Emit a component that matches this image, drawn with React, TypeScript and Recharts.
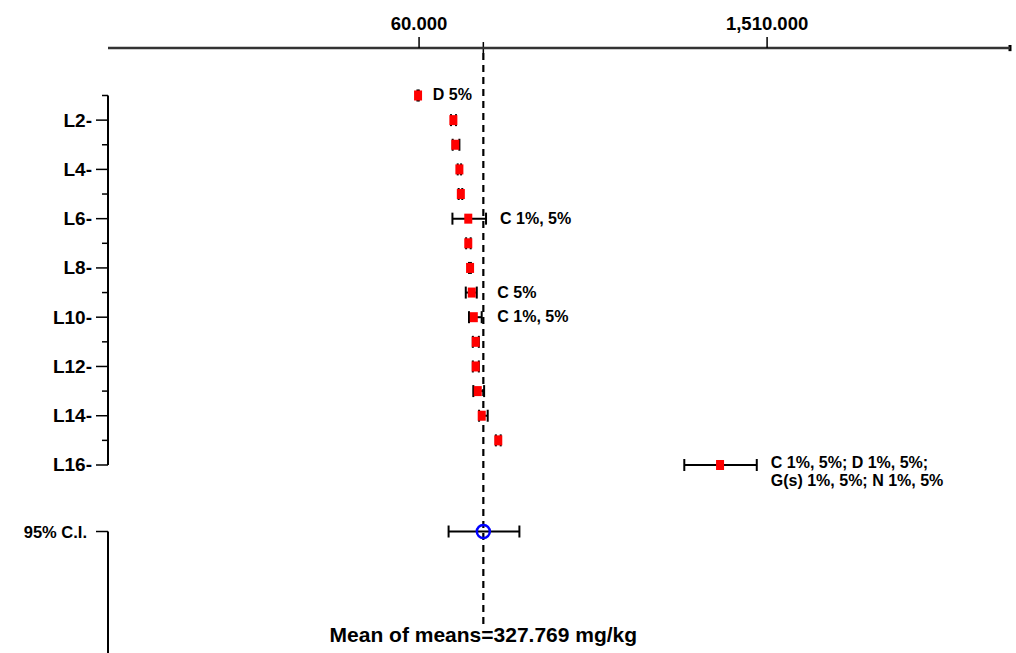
import { ScatterChart, Scatter, XAxis, YAxis, ErrorBar, ReferenceLine } from 'recharts';

// lab results (mg/kg): mean with its interval, one row per lab
const labs = ['L1', 'L2', 'L3', 'L4', 'L5', 'L6', 'L7', 'L8', 'L9', 'L10', 'L11', 'L12', 'L13', 'L14', 'L15', 'L16'];
const means = [55.8, 202.9, 211, 228, 234, 265, 265, 272.5, 279.6, 288, 296, 296, 304.6, 321, 390, 1314];
const lows = [53, 193, 200, 221, 225, 199, 256, 268, 254.6, 268, 284, 284, 286, 310, 380, 1165];
const highs = [59, 214, 228, 235, 240, 339, 275, 276, 300.4, 321, 309, 309, 331, 346, 400, 1467];
const notes = [
    ['D 5%'], [], [], [], [], ['C 1%, 5%'], [], [], ['C 5%'], ['C 1%, 5%'], [], [], [], [], [],
    ['C 1%, 5%; D 1%, 5%;', 'G(s) 1%, 5%; N 1%, 5%'],
];

const meanOfMeans = 327.769;
const ciLow = 183;
const ciHigh = 478;
const ciLabel = '95% C.I.';
const ciRow = 18.7;

const xTicks = [60, 1510];
const xMin = -1236;
const xMax = 2522;
const yMin = -0.928;
const yMax = 23.632;

const FONT = '"Liberation Sans", Arial, sans-serif';

const points = labs.map((lab, i) => ({
    lab,
    x: means[i],
    y: i + 1,
    err: [means[i] - lows[i], highs[i] - means[i]],
}));

const ciPoint = [{ x: meanOfMeans, y: ciRow, err: [meanOfMeans - ciLow, ciHigh - meanOfMeans] }];

// notes sit right of the interval; ones close to the mean line are pushed past it
const notePoints = labs
    .map((lab, i) => ({
        x: Math.abs(highs[i] - meanOfMeans) < 100 ? Math.max(highs[i], meanOfMeans) : highs[i],
        y: i + 1,
        lines: notes[i],
    }))
    .filter((p) => p.lines.length > 0);

const fmtX = (v: number) => v.toLocaleString('en-US', { minimumFractionDigits: 3, maximumFractionDigits: 3 });

const RowTick = ({ x, y, payload }: any) => {
    const v = payload.value;
    if (v === ciRow) {
        return (
            <g>
                <line x1={x} x2={x + 12} y1={y} y2={y} stroke="#000" strokeWidth={1.5} />
                <text x={x - 9} y={y + 6} textAnchor="end" fontFamily={FONT} fontWeight="bold" fontSize={16.5} fill="#000">
                    {ciLabel}
                </text>
            </g>
        );
    }
    const major = v % 2 === 0;
    return (
        <g>
            <line x1={major ? x : x + 6} x2={x + 12} y1={y} y2={y} stroke="#000" strokeWidth={1.5} />
            {major && (
                <text x={x - 4} y={y + 6.5} textAnchor="end" fontFamily={FONT} fontWeight="bold" fontSize={19} fill="#000">
                    {labs[v - 1] + '-'}
                </text>
            )}
        </g>
    );
};

const LabMarker = ({ cx, cy }: any) => <rect x={cx - 4} y={cy - 5} width={8} height={10} fill="#ff0000" />;

const CiMarker = ({ cx, cy }: any) => <circle cx={cx} cy={cy} r={6.5} fill="none" stroke="#0000ff" strokeWidth={2.5} />;

const NoteText = ({ cx, cy, payload }: any) => (
    <text x={cx + 14} y={cy + 5} fontFamily={FONT} fontWeight="bold" fontSize={16} fill="#000">
        {payload.lines.map((line: string, i: number) => (
            <tspan key={i} x={cx + 14} dy={i === 0 ? (payload.lines.length > 1 ? -2 : 0) : 18}>
                {line}
            </tspan>
        ))}
    </text>
);

const MeanText = ({ viewBox }: any) => (
    <text
        x={viewBox.x}
        y={viewBox.y + viewBox.height + 16}
        textAnchor="middle"
        fontFamily={FONT}
        fontWeight="bold"
        fontSize={21}
        fill="#000"
    >
        {`Mean of means=${meanOfMeans.toFixed(3)} mg/kg`}
    </text>
);

const App = () => {
    return (
        <div style={{ position: 'absolute', left: 0, top: 0, background: '#fff' }}>
            <ScatterChart width={1016} height={653} margin={{ top: 0, right: 6, bottom: 0, left: 0 }}>
                <XAxis
                    type="number"
                    dataKey="x"
                    orientation="top"
                    domain={[xMin, xMax]}
                    ticks={xTicks}
                    tickFormatter={fmtX}
                    allowDataOverflow
                    height={48}
                    axisLine={{ stroke: '#333', strokeWidth: 2.5 }}
                    tickLine={{ stroke: '#000', strokeWidth: 1.5 }}
                    tickSize={11}
                    tickMargin={7}
                    tick={{ fill: '#000', fontSize: 18.5, fontWeight: 'bold', fontFamily: FONT }}
                />
                <YAxis
                    type="number"
                    dataKey="y"
                    reversed
                    domain={[yMin, yMax]}
                    ticks={[...labs.map((_, i) => i + 1), ciRow]}
                    interval={0}
                    allowDataOverflow
                    width={108}
                    axisLine={false}
                    tickLine={false}
                    tickSize={12}
                    tickMargin={0}
                    tick={<RowTick />}
                />

                {/* left axis, split between the labs and the interval row */}
                <ReferenceLine segment={[{ x: xMin, y: 1 }, { x: xMin, y: labs.length }]} stroke="#000" strokeWidth={2} ifOverflow="visible" />
                <ReferenceLine segment={[{ x: xMin, y: ciRow }, { x: xMin, y: yMax }]} stroke="#000" strokeWidth={2} ifOverflow="visible" />

                {/* end cap of the top axis */}
                <ReferenceLine segment={[{ x: xMax, y: -1.05 }, { x: xMax, y: -0.8 }]} stroke="#000" strokeWidth={3} ifOverflow="visible" />

                {/* mean of means */}
                <ReferenceLine segment={[{ x: meanOfMeans, y: -1.17 }, { x: meanOfMeans, y: -0.72 }]} stroke="#000" strokeWidth={1.5} ifOverflow="visible" />
                <ReferenceLine
                    segment={[{ x: meanOfMeans, y: -0.72 }, { x: meanOfMeans, y: 22.54 }]}
                    stroke="#000"
                    strokeWidth={2.2}
                    strokeDasharray="7 5"
                    ifOverflow="visible"
                    label={<MeanText />}
                />

                <Scatter data={points} shape={<LabMarker />} isAnimationActive={false}>
                    <ErrorBar dataKey="err" direction="x" width={6} stroke="#000" strokeWidth={2} isAnimationActive={false} />
                </Scatter>
                <Scatter data={ciPoint} shape={<CiMarker />} isAnimationActive={false}>
                    <ErrorBar dataKey="err" direction="x" width={6} stroke="#000" strokeWidth={2} isAnimationActive={false} />
                </Scatter>
                <Scatter data={notePoints} shape={<NoteText />} isAnimationActive={false} />
            </ScatterChart>
        </div>
    );
};

export default App;
